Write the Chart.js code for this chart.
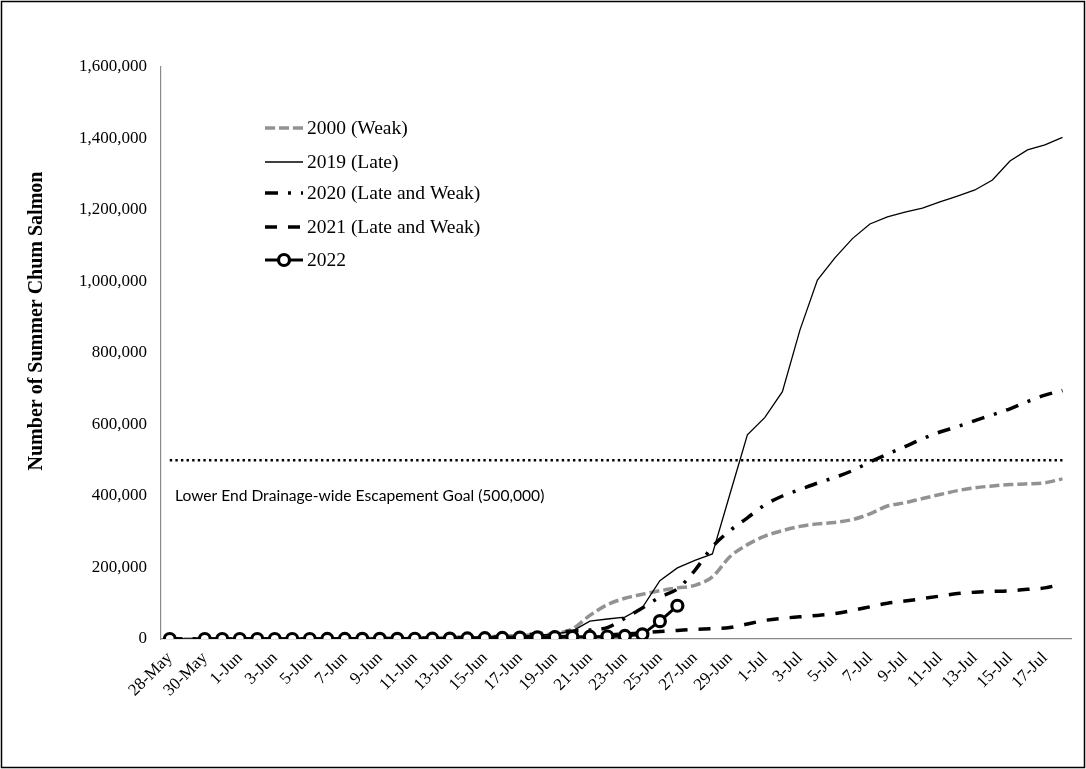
<!DOCTYPE html>
<html>
<head>
<meta charset="utf-8">
<script src="https://cdn.jsdelivr.net/npm/chart.js@4/dist/chart.umd.min.js"></script>
<style>
  body { margin: 0; background: #fff; }
  canvas { display: block; }
</style>
</head>
<body>
<canvas id="chum" width="1086" height="769"></canvas>
<script>
const days = [
  "28-May", "29-May", "30-May", "31-May",
  "1-Jun", "2-Jun", "3-Jun", "4-Jun", "5-Jun", "6-Jun", "7-Jun", "8-Jun", "9-Jun", "10-Jun",
  "11-Jun", "12-Jun", "13-Jun", "14-Jun", "15-Jun", "16-Jun", "17-Jun", "18-Jun", "19-Jun", "20-Jun",
  "21-Jun", "22-Jun", "23-Jun", "24-Jun", "25-Jun", "26-Jun", "27-Jun", "28-Jun", "29-Jun", "30-Jun",
  "1-Jul", "2-Jul", "3-Jul", "4-Jul", "5-Jul", "6-Jul", "7-Jul", "8-Jul", "9-Jul", "10-Jul",
  "11-Jul", "12-Jul", "13-Jul", "14-Jul", "15-Jul", "16-Jul", "17-Jul", "18-Jul"
];

const yTicks = [0, 200000, 400000, 600000, 800000, 1000000, 1200000, 1400000, 1600000];

const y2000 = [
  0, 0, 0, 0, 0, 100, 200, 300, 500, 700,
  900, 1200, 1600, 2000, 2600, 3300, 4200, 5200, 6500, 8000,
  10000, 12000, 15000, 28000, 66000, 96000, 114000, 125000, 135000, 143000,
  150000, 174000, 230000, 264000, 288000, 303000, 315000, 322000, 326000, 334000,
  350000, 372000, 381000, 393000, 404000, 415000, 423000, 428000, 432000, 434000,
  437000, 448000
];

const y2019 = [
  0, 0, 0, 0, 0, 0, 100, 200, 300, 500,
  700, 1000, 1300, 1700, 2200, 2800, 3500, 4300, 6000, 7500,
  9000, 11000, 14000, 22000, 50000, 56000, 61000, 88000, 163000, 199000,
  220000, 238000, 405000, 571000, 620000, 692000, 864000, 1004000, 1066000, 1120000,
  1161000, 1181000, 1194000, 1205000, 1223000, 1239000, 1256000, 1284000, 1337000, 1368000,
  1382000, 1403000
];

const y2020 = [
  0, 0, 0, 0, 0, 0, 100, 200, 300, 400,
  600, 800, 1100, 1500, 2000, 2700, 3500, 4500, 5000, 7000,
  10000, 15000, 19000, 22000, 25000, 32000, 58000, 87000, 117000, 140000,
  192000, 258000, 303000, 339000, 375000, 400000, 418000, 436000, 452000, 471000,
  495000, 517000, 538000, 560000, 579000, 594000, 611000, 627000, 644000, 664000,
  682000, 695000
];

const y2021 = [
  0, 0, 0, 0, 0, 0, 0, 100, 200, 300,
  400, 500, 700, 900, 1100, 1400, 1800, 2200, 2700, 3300,
  4000, 5000, 6000, 7500, 9500, 11500, 14000, 17000, 21000, 24000,
  27000, 29000, 32000, 42000, 52000, 58000, 62000, 66000, 71000, 80000,
  90000, 100000, 106000, 113000, 120000, 127000, 131000, 133000, 135000, 139000,
  143000, 154000
];

const y2022 = [
  0, null, 0, 0, 0, 0, 0, 0, 0, 100,
  200, 300, 400, 500, 700, 900, 1200, 1600, 2200, 3000,
  4000, 4800, 5300, 6000, 6500, 7000, 8500, 13000, 50000, 93000
];

const goal = 500000;
const goalText = "Lower End Drainage-wide Escapement Goal (500,000)";
const yTitle = "Number of Summer Chum Salmon";

const serif = "'Liberation Serif', 'Times New Roman', serif";
const grey = "#929292";

const series = [
  { label: "2000 (Weak)", data: y2000, borderColor: grey, borderWidth: 3.5, borderDash: [10, 4], tension: 0.4, order: 4 },
  { label: "2019 (Late)", data: y2019, borderColor: "#000", borderWidth: 1.3, borderDash: [], tension: 0, order: 3 },
  { label: "2020 (Late and Weak)", data: y2020, borderColor: "#000", borderWidth: 3.5, borderDash: [13, 10, 3, 10], tension: 0.4, order: 2 },
  { label: "2021 (Late and Weak)", data: y2021, borderColor: "#000", borderWidth: 3.5, borderDash: [12, 11], tension: 0.4, order: 1 },
  { label: "2022", data: y2022, borderColor: "#000", borderWidth: 3, borderDash: [], tension: 0, order: 0,
    pointRadius: 5.5, pointBorderWidth: 3.2, pointBackgroundColor: "#fff", pointBorderColor: "#000" }
];

const datasets = series.map(s => ({
  pointRadius: 0,
  fill: false,
  spanGaps: false,
  cubicInterpolationMode: s.tension ? "monotone" : "default",
  ...s
}));

datasets.push({
  label: "goal",
  data: days.map(() => goal),
  borderColor: "#000",
  borderWidth: 2.5,
  borderDash: [2.4, 3.2],
  pointRadius: 0,
  order: 5
});

// legend, axis title, goal text and outer frame
const extras = {
  id: "extras",
  afterDraw(chart) {
    const ctx = chart.ctx;
    const y = chart.scales.y;
    ctx.save();

    // legend rows
    const rows = [128, 162, 193, 227, 260];
    series.forEach((s, i) => {
      const ry = rows[i];
      ctx.beginPath();
      ctx.setLineDash(s.borderDash);
      ctx.lineDashOffset = 0;
      ctx.strokeStyle = s.borderColor;
      ctx.lineWidth = s.borderWidth;
      ctx.moveTo(265, ry);
      ctx.lineTo(303, ry);
      ctx.stroke();
      if (s.pointRadius) {
        ctx.setLineDash([]);
        ctx.beginPath();
        ctx.arc(284, ry, s.pointRadius, 0, Math.PI * 2);
        ctx.fillStyle = "#fff";
        ctx.fill();
        ctx.lineWidth = s.pointBorderWidth;
        ctx.stroke();
      }
      ctx.fillStyle = "#000";
      ctx.font = "19.5px " + serif;
      ctx.textAlign = "left";
      ctx.textBaseline = "middle";
      ctx.fillText(s.label, 307, ry + 1);
    });

    // goal label
    ctx.font = "15.6px Lato";
    ctx.fillStyle = "#000";
    ctx.textBaseline = "middle";
    ctx.fillText(goalText, 175, y.getPixelForValue(goal) + 36);

    // y axis title
    ctx.save();
    ctx.translate(37, 321);
    ctx.rotate(-Math.PI / 2);
    ctx.font = "bold 20px " + serif;
    ctx.textAlign = "center";
    ctx.fillText(yTitle, 0, 0);
    ctx.restore();

    // frame
    ctx.setLineDash([]);
    ctx.strokeStyle = "#000";
    ctx.lineWidth = 1.5;
    ctx.strokeRect(1.5, 1.5, chart.width - 3, chart.height - 3);
    ctx.restore();
  }
};

new Chart(document.getElementById("chum"), {
  type: "line",
  data: { labels: days, datasets },
  plugins: [extras],
  options: {
    responsive: false,
    animation: false,
    devicePixelRatio: 1,
    layout: { padding: { top: 67, right: 11, left: 0, bottom: 0 } },
    plugins: { legend: { display: false }, tooltip: { enabled: false } },
    scales: {
      x: {
        type: "category",
        offset: true,
        grid: { display: false, drawTicks: false },
        border: { display: true, color: "#8a8a8a", width: 1.2 },
        ticks: {
          autoSkip: false,
          maxRotation: 45,
          minRotation: 45,
          padding: 9,
          color: "#000",
          font: { family: serif, size: 17 },
          callback: (v, i) => (i % 2 === 0 ? days[i] : "")
        },
        afterFit(scale) { scale.height = 130; }
      },
      y: {
        min: 0,
        max: 1600000,
        afterBuildTicks(scale) { scale.ticks = yTicks.map(v => ({ value: v })); },
        grid: { display: false, drawTicks: false },
        border: { display: true, color: "#8a8a8a", width: 1.2 },
        ticks: {
          padding: 14,
          color: "#000",
          font: { family: serif, size: 17 },
          callback: v => v.toLocaleString("en-US")
        },
        afterFit(scale) { scale.width = 161; }
      }
    }
  }
});
</script>
</body>
</html>
